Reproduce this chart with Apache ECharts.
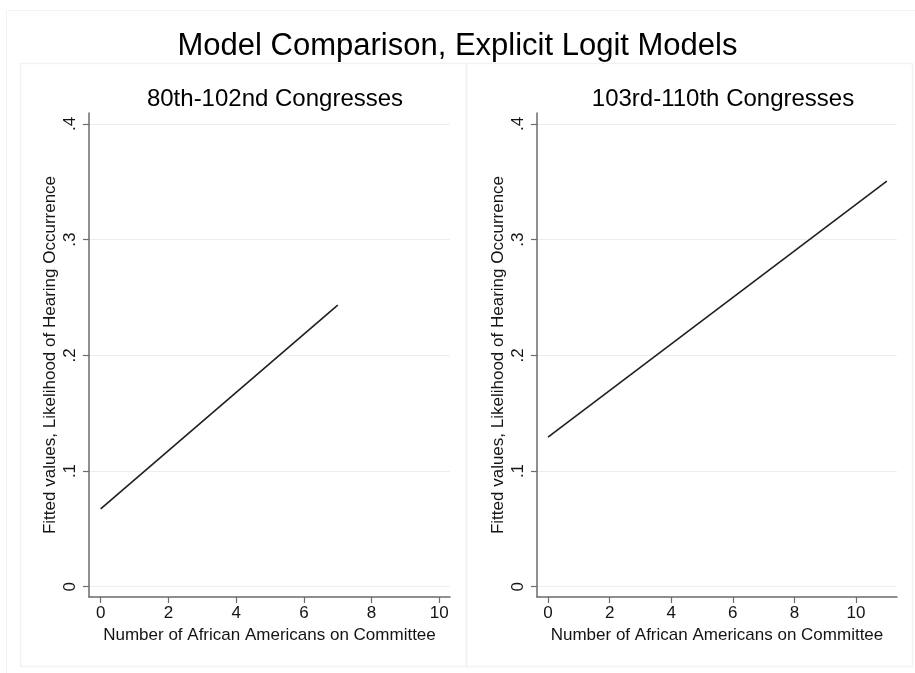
<!DOCTYPE html>
<html>
<head>
<meta charset="utf-8">
<title>Model Comparison, Explicit Logit Models</title>
<script src="https://cdn.jsdelivr.net/npm/echarts@6/dist/echarts.min.js"></script>
<style>
  html, body { margin: 0; padding: 0; background: #ffffff; }
  #chart { width: 915px; height: 673px; }
</style>
</head>
<body>
<div id="chart"></div>
<script>
// Fitted probability of a hearing vs. number of African American committee members
const panelTitles = ['80th-102nd Congresses', '103rd-110th Congresses'];
const earlyMembers = [0, 7];
const earlyFitted = [0.0672, 0.2435];
const lateMembers = [0, 11];
const lateFitted = [0.1294, 0.3507];
const xTicks = [0, 2, 4, 6, 8, 10];
const yTicks = [0, 0.1, 0.2, 0.3, 0.4];

const FONT = '"Liberation Sans", Arial, Helvetica, sans-serif';
const AXIS_COLOR = '#6b6b6b';
const GRID_COLOR = '#e8f0f1';
const FRAME_COLOR = '#eef3f4';
const TEXT_SIZE = 17;

const chart = echarts.init(document.getElementById('chart'), null, { renderer: 'canvas' });

function pairs(xs, ys) { return xs.map((x, i) => [x, ys[i]]); }

function xAxisFor(idx, min, max) {
  return {
    type: 'value', gridIndex: idx, min: min, max: max,
    name: 'Number of African Americans on Committee',
    nameLocation: 'middle', nameGap: 30,
    nameTextStyle: { fontFamily: FONT, fontSize: TEXT_SIZE, color: '#141414' },
    axisLine: { show: true, onZero: false, lineStyle: { color: AXIS_COLOR, width: 1.5 } },
    axisTick: { show: true, length: 6, customValues: xTicks, lineStyle: { color: AXIS_COLOR, width: 1.2 } },
    axisLabel: { show: true, customValues: xTicks, margin: 8, fontFamily: FONT, fontSize: TEXT_SIZE, color: '#141414' },
    splitLine: { show: false }
  };
}

function yAxisFor(idx) {
  return {
    type: 'value', gridIndex: idx, min: -0.0089, max: 0.4095,
    name: 'Fitted values, Likelihood of Hearing Occurrence',
    nameLocation: 'middle', nameGap: 30,
    nameTextStyle: { fontFamily: FONT, fontSize: TEXT_SIZE, color: '#141414' },
    axisLine: { show: true, onZero: false, lineStyle: { color: AXIS_COLOR, width: 1.5 } },
    axisTick: { show: true, length: 6, customValues: yTicks, lineStyle: { color: AXIS_COLOR, width: 1.2 } },
    axisLabel: {
      show: true, customValues: yTicks, rotate: 90, margin: 10,
      fontFamily: FONT, fontSize: TEXT_SIZE, color: '#141414',
      formatter: v => (v === 0 ? '0' : '.' + Math.round(v * 10))
    },
    splitLine: { show: true, lineStyle: { color: GRID_COLOR, width: 1.2 } }
  };
}

const option = {
  backgroundColor: '#ffffff',
  animation: false,
  title: [
    { text: 'Model Comparison, Explicit Logit Models', left: 'center', top: 26,
      textStyle: { fontFamily: FONT, fontSize: 31, fontWeight: 'normal', color: '#000' } },
    { text: panelTitles[0], left: 270, top: 82, textAlign: 'center',
      textStyle: { fontFamily: FONT, fontSize: 24, fontWeight: 'normal', color: '#000' } },
    { text: panelTitles[1], left: 718, top: 82, textAlign: 'center',
      textStyle: { fontFamily: FONT, fontSize: 24, fontWeight: 'normal', color: '#000' } }
  ],
  graphic: [
    { type: 'rect', shape: { x: 6.5, y: 10.5, width: 920, height: 670 },
      style: { fill: 'none', stroke: FRAME_COLOR, lineWidth: 1 }, silent: true, z: -10 },
    { type: 'rect', shape: { x: 20.5, y: 63.5, width: 446, height: 603 },
      style: { fill: 'none', stroke: FRAME_COLOR, lineWidth: 1.5 }, silent: true, z: -10 },
    { type: 'rect', shape: { x: 466.5, y: 63.5, width: 446, height: 603 },
      style: { fill: 'none', stroke: FRAME_COLOR, lineWidth: 1.5 }, silent: true, z: -10 }
  ],
  grid: [
    { left: 89, top: 113, width: 361, height: 484 },
    { left: 537, top: 113, width: 360, height: 484 }
  ],
  xAxis: [xAxisFor(0, -0.345, 10.316), xAxisFor(1, -0.357, 11.33)],
  yAxis: [yAxisFor(0), yAxisFor(1)],
  series: [
    { type: 'line', xAxisIndex: 0, yAxisIndex: 0, data: pairs(earlyMembers, earlyFitted),
      showSymbol: false, lineStyle: { color: '#1f1f1f', width: 1.6 } },
    { type: 'line', xAxisIndex: 1, yAxisIndex: 1, data: pairs(lateMembers, lateFitted),
      showSymbol: false, lineStyle: { color: '#1f1f1f', width: 1.6 } }
  ]
};

chart.setOption(option);
</script>
</body>
</html>
